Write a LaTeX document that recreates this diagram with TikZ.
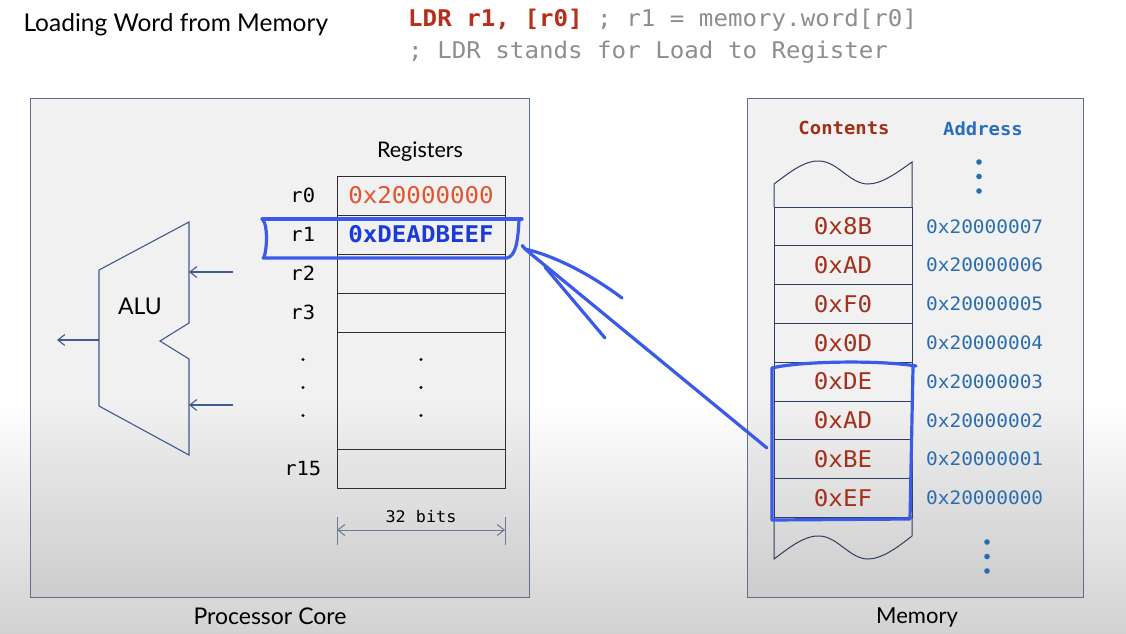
\documentclass[tikz,border=0pt]{standalone}
\usepackage{fontspec}
\setmainfont{Lato}
\newfontfamily\codefont[FakeStretch=1.05]{DejaVu Sans Mono}
\usetikzlibrary{arrows.meta, positioning, calc}
\definecolor{boxline}{HTML}{5F6F90}
\definecolor{cellline}{HTML}{2E2E34}
\definecolor{memline}{HTML}{2E3E5E}
\definecolor{wireblue}{HTML}{3E5A8E}
\definecolor{penblue}{HTML}{3A5AE8}
\definecolor{codered}{HTML}{B5301B}
\definecolor{codegray}{HTML}{8E8E8E}
\definecolor{r0red}{HTML}{E2542C}
\definecolor{r1blue}{HTML}{1C3BD6}
\definecolor{memred}{HTML}{A5301C}
\definecolor{hdrred}{HTML}{9E3018}
\definecolor{addrblue}{HTML}{2B6CB0}
\definecolor{hdrblue}{HTML}{2A6DC0}
\definecolor{dimcol}{HTML}{6A7A94}
\definecolor{bgbottom}{HTML}{D2D2D2}
\tikzset{
  unitbox/.style = {draw=boxline, line width=1pt, fill=black, fill opacity=0.055,
                    inner sep=0pt, outer sep=0pt},
  regcell/.style = {draw=cellline, line width=0.9pt, minimum width=168pt,
                    minimum height=39pt, inner sep=0pt, outer sep=0pt,
                    font=\codefont\fontsize{23}{23}\selectfont},
  memcell/.style = {draw=memline, line width=1pt, minimum width=138pt,
                    minimum height=38.8pt, inner sep=0pt, outer sep=0pt,
                    text=memred, font=\codefont\fontsize{23}{23}\selectfont},
  reglbl/.style  = {font=\codefont\fontsize{19.5}{19.5}\selectfont,
                    text width=38pt, align=center, inner sep=0pt},
  addr/.style    = {text=addrblue, inner sep=0pt,
                    font=\codefont\fontsize{18.5}{18.5}\selectfont},
  hdr/.style     = {font=\codefont\bfseries\fontsize{18}{18}\selectfont},
  caption/.style = {font=\fontsize{23}{23}\selectfont},
  wire/.style    = {draw=wireblue, line width=1.1pt,
                    -{Straight Barb[length=7pt, width=11pt]}},
  dimarrow/.style= {draw=dimcol, line width=1pt,
                    {Straight Barb[length=7pt, width=11pt]}-{Straight Barb[length=7pt, width=11pt]}},
  pen/.style     = {draw=penblue, line width=3.2pt, line cap=round, line join=round},
}
\begin{document}
\begin{tikzpicture}[x=1pt, y=-1pt]
  % background, white fading to grey
  \useasboundingbox (0,0) rectangle (1126,633);
  \fill[white] (0,0) rectangle (1126,633);
  \shade[top color=white, bottom color=bgbottom] (0,400) rectangle (1126,633);

  % heading and code
  \node[anchor=west, font=\fontsize{24.5}{24.5}\selectfont] (title) at (20,25) {Loading Word from Memory};
  \node[anchor=west, text=codegray, inner sep=0pt, font=\codefont\fontsize{23}{23}\selectfont] (code1) at (408,20)
    {\textcolor{codered}{\bfseries LDR r1, [r0]} ; r1 = memory.word[r0]};
  \node[anchor=west, text=codegray, inner sep=0pt, font=\codefont\fontsize{23}{23}\selectfont] (code2) at (408,52)
    {; LDR stands for Load to Register};

  % the two units
  \node[unitbox, minimum width=499pt, minimum height=499pt] (core) at (279.5,347.5) {};
  \node[unitbox, minimum width=336pt, minimum height=499pt] (mem)  at (915,347.5) {};
  \node[caption] (corelbl) at (270,616) {Processor Core};
  \node[caption, font=\fontsize{22}{22}\selectfont] (memlbl) at (917,617) {Memory};

  % register file
  \node[caption, font=\fontsize{21.5}{21.5}\selectfont] (reghdr) at (420,152) {Registers};
  \node[regcell, text=r0red] (r0) at (421,195.5) {0x20000000};
  \node[regcell, below=0pt of r0, text=r1blue, font=\codefont\bfseries\fontsize{23}{23}\selectfont] (r1) {0xDEADBEEF};
  \node[regcell, below=0pt of r1] (r2) {};
  \node[regcell, below=0pt of r2] (r3) {};
  \node[regcell, below=0pt of r3, minimum height=117pt] (rdots) {};
  \node[regcell, below=0pt of rdots] (r15) {};
  \foreach \r in {r0,r1,r2,r3,r15}
    \node[reglbl, left=15pt of \r] (lbl-\r) {\r};
  \foreach \dy in {-31,-3,25} {
    \fill (rdots.center) ++(0,\dy) circle (1.7pt);
    \fill (303,390.5+\dy) circle (1.7pt);
  }

  % 32 bits
  \coordinate (dimL) at ($(r15.south west)+(0,42)$);
  \coordinate (dimR) at ($(r15.south east)+(0,42)$);
  \draw[dimcol, line width=1pt] ($(dimL)+(0,-13)$) -- ($(dimL)+(0,15)$);
  \draw[dimcol, line width=1pt] ($(dimR)+(0,-13)$) -- ($(dimR)+(0,15)$);
  \draw[dimarrow] (dimL) -- (dimR);
  \node[font=\codefont\fontsize{16}{16}\selectfont] (bits) at ($(dimL)!0.5!(dimR)+(0,-13)$) {32 bits};

  % ALU
  \draw[wireblue, line width=1.1pt] (189,222) -- (99,270) -- (99,406) -- (189,455)
    -- (189,359) -- (160,341) -- (189,323) -- cycle;
  \node[font=\fontsize{23}{23}\selectfont] (alu) at (140,306) {ALU};
  \coordinate (aluInA) at (189,272);
  \coordinate (aluInB) at (189,405);
  \coordinate (aluOut) at (99,340);
  \coordinate (srcA) at (233,272);
  \coordinate (srcB) at (233,405);
  \coordinate (dst)  at (57,340);
  \draw[wire] (srcA) -- (aluInA);
  \draw[wire] (srcB) -- (aluInB);
  \draw[wire] (aluOut) -- (dst);

  % memory column
  \node[hdr, text=hdrred]  (contents) at (844,128) {Contents};
  \node[hdr, text=hdrblue] (address)  at (983,129) {Address};
  \node[memcell] (m7) at (843,226.4) {0x8B};
  \node[memcell, below=0pt of m7] (m6) {0xAD};
  \node[memcell, below=0pt of m6] (m5) {0xF0};
  \node[memcell, below=0pt of m5] (m4) {0x0D};
  \node[memcell, below=0pt of m4] (m3) {0xDE};
  \node[memcell, below=0pt of m3] (m2) {0xAD};
  \node[memcell, below=0pt of m2] (m1) {0xBE};
  \node[memcell, below=0pt of m1] (m0) {0xEF};
  \foreach \i in {0,...,7}
    \node[addr, right=14pt of m\i] (a\i) {0x2000000\i};
  \draw[memline, line width=1pt] (m7.north west) -- (774,184)
    .. controls (790,172) and (805,160) .. (820,161)
    .. controls (838,162) and (850,184) .. (868,184)
    .. controls (882,184) and (898,172) .. (912,162) -- (m7.north east);
  \draw[memline, line width=1pt] (m0.south west) -- (774,559)
    .. controls (790,547) and (805,535) .. (820,536)
    .. controls (838,537) and (850,559) .. (868,559)
    .. controls (882,559) and (898,547) .. (912,536) -- (m0.south east);
  \foreach \dy in {0,14.5,29} {
    \fill[addrblue] (979,162+\dy) circle (2.8pt);
    \fill[addrblue] (987,542+\dy) circle (2.8pt);
  }

  % hand drawn marks
  \draw[pen] (262,219) -- (522,219);
  \draw[pen] (519,220) .. controls (518,240) and (516,256) .. (507,258) -- (263,258);
  \draw[pen] (263,220) .. controls (268,226) and (267,250) .. (264,257);
  \draw[pen] (772,368) .. controls (800,361) and (880,360) .. (916,366);
  \draw[pen] (772,368) -- (772,520) -- (910,519) -- (913,367);
  \coordinate (tail) at (767,448);
  \coordinate (tip) at (525,249);
  \draw[pen] (tail) -- (531,254) .. controls (521,246) and (520,242) .. (tip)
    .. controls (555,256) and (590,274) .. (622,298);
  \draw[pen] (545,267) -- (605,338);
\end{tikzpicture}
\end{document}
